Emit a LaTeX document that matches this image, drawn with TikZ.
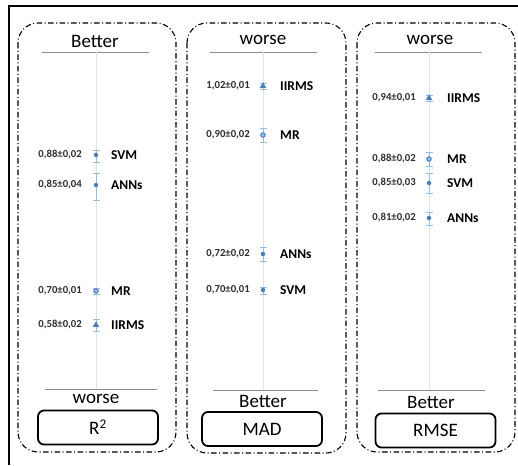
\documentclass[tikz,border=0pt]{standalone}
\usepackage{fontspec}
\setmainfont{Carlito}
\usetikzlibrary{shapes.geometric}

\definecolor{markblue}{RGB}{74,126,187}
\definecolor{barblue}{RGB}{150,190,228}
\definecolor{axisgray}{RGB}{220,228,238}
\definecolor{rulegray}{RGB}{140,140,140}
\definecolor{numgray}{RGB}{45,45,45}

\begin{document}
\begin{tikzpicture}[x=1pt,y=-1pt,
        panel/.style={line width=1.1pt,rounded corners=20pt,
            dash pattern=on 5.5pt off 2.5pt on 1pt off 2.5pt},
        metricbox/.style={draw,line width=1.8pt,rounded corners=6pt,
            minimum width=120pt,minimum height=34pt,font=\fontsize{19}{19}\selectfont},
        dirlabel/.style={font=\fontsize{19}{19}\selectfont,inner sep=0pt},
        valnum/.style={anchor=east,font=\fontsize{10.7}{10.7}\selectfont\bfseries,text=numgray,inner sep=0pt},
        modelname/.style={anchor=west,font=\fontsize{13.5}{13.5}\selectfont\bfseries,inner sep=0pt},
        errbar/.style={draw=barblue,line width=0.9pt},
        dotmark/.style={circle,fill=markblue,inner sep=0pt,minimum size=4.5pt},
        ringmark/.style={circle,draw=markblue,fill=barblue,line width=1pt,inner sep=0pt,minimum size=4.5pt},
        trimark/.style={regular polygon,regular polygon sides=3,fill=markblue,inner sep=0pt,minimum size=7.5pt}]
        \useasboundingbox (0,0) rectangle (518,465);
        % outer frame
        \draw[line width=1.5pt] (9,465) -- (9,6) -- (518,6);
        % panels
        \draw[panel] (18,23) rectangle (176,452);
        \draw[panel] (187,23) rectangle (346,453);
        \draw[panel] (357,23) rectangle (515,452);

        % R2
        \node[dirlabel] (r2top) at (95,41) {Better};
        \draw[rulegray,line width=0.8pt] (42,52) -- (149,52);
        \draw[axisgray,line width=0.8pt] (96,52) -- (96,389);
        \draw[rulegray,line width=0.8pt] (45,389) -- (157,389);
        \node[dirlabel] (r2bot) at (96,399) {worse};
        \node[metricbox] (r2box) at (98,427.5) {R\textsuperscript{2}};
        \foreach \py/\plo/\phi/\pval/\pname/\pmk in {
                155/150/162/{0,88±0,02}/SVM/dotmark,
                185/173/200/{0,85±0,04}/ANNs/dotmark,
                291/288/294/{0,70±0,01}/MR/ringmark,
                325/319/331/{0,58±0,02}/IIRMS/trimark}{
            \draw[errbar] (96,\plo) -- (96,\phi) (92.5,\plo) -- (99.5,\plo) (92.5,\phi) -- (99.5,\phi);
            \node[\pmk] (r2-\pname) at (96,\py) {};
            \node[valnum] (r2-\pname-val) at (82,\py) {\pval};
            \node[modelname] (r2-\pname-lbl) at (111,\py) {\pname};
        }

        % MAD
        \node[dirlabel] (madtop) at (263,40) {worse};
        \draw[rulegray,line width=0.8pt] (210,52) -- (317,52);
        \draw[axisgray,line width=0.8pt] (263,52) -- (263,390);
        \draw[rulegray,line width=0.8pt] (213,390) -- (318,390);
        \node[dirlabel] (madbot) at (263,401) {Better};
        \node[metricbox] (madbox) at (262,429) {MAD};
        \foreach \py/\plo/\phi/\pval/\pname/\pmk in {
                86/83/89/{1,02±0,01}/IIRMS/trimark,
                135/128/142/{0,90±0,02}/MR/ringmark,
                254/247/261/{0,72±0,02}/ANNs/dotmark,
                290/287/294/{0,70±0,01}/SVM/dotmark}{
            \draw[errbar] (263,\plo) -- (263,\phi) (259.5,\plo) -- (266.5,\plo) (259.5,\phi) -- (266.5,\phi);
            \node[\pmk] (mad-\pname) at (263,\py) {};
            \node[valnum] (mad-\pname-val) at (250,\py) {\pval};
            \node[modelname] (mad-\pname-lbl) at (280,\py) {\pname};
        }

        % RMSE
        \node[dirlabel] (rmsetop) at (430,40) {worse};
        \draw[rulegray,line width=0.8pt] (375,52) -- (482,52);
        \draw[axisgray,line width=0.8pt] (429,52) -- (429,390);
        \draw[rulegray,line width=0.8pt] (378,390) -- (485,390);
        \node[dirlabel] (rmsebot) at (431,402) {Better};
        \node[metricbox] (rmsebox) at (435.5,430.5) {RMSE};
        \foreach \py/\plo/\phi/\pval/\pname/\pmk in {
                98/95/101/{0,94±0,01}/IIRMS/trimark,
                159/152/166/{0,88±0,02}/MR/ringmark,
                183/173/193/{0,85±0,03}/SVM/dotmark,
                218/212/225/{0,81±0,02}/ANNs/dotmark}{
            \draw[errbar] (429,\plo) -- (429,\phi) (425.5,\plo) -- (432.5,\plo) (425.5,\phi) -- (432.5,\phi);
            \node[\pmk] (rmse-\pname) at (429,\py) {};
            \node[valnum] (rmse-\pname-val) at (416,\py) {\pval};
            \node[modelname] (rmse-\pname-lbl) at (447,\py) {\pname};
        }
    \end{tikzpicture}
\end{document}
